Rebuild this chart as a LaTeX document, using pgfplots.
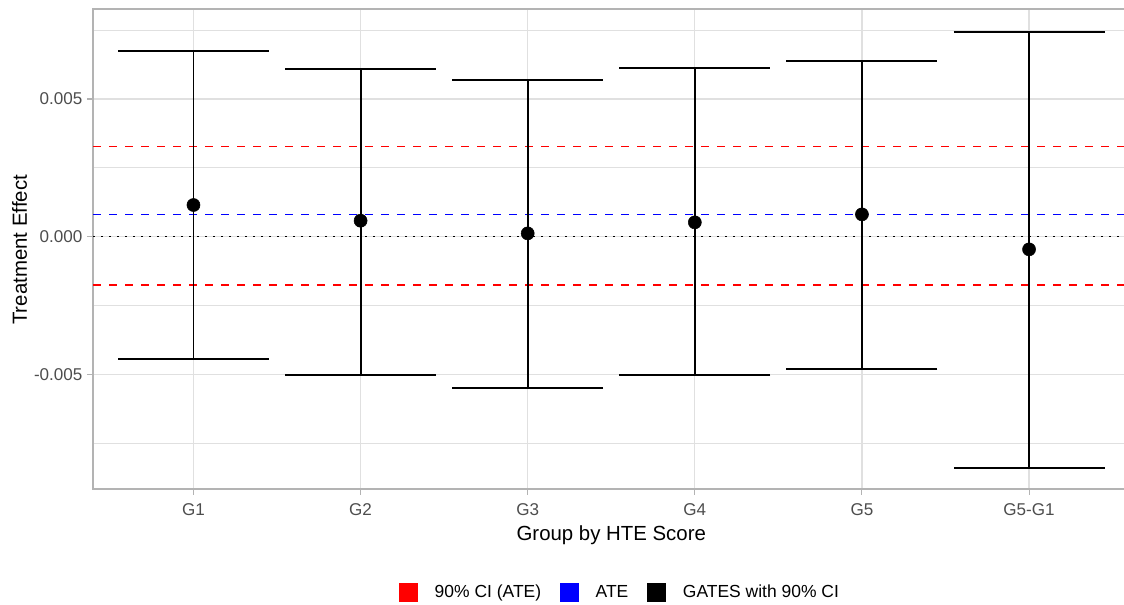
\documentclass[border=0pt]{standalone}
\usepackage{pgfplots}
\usepackage{pgfplotstable}
\pgfplotsset{compat=1.18}
\usepackage{fontspec}
\setmainfont{Liberation Sans}

\definecolor{gridgray}{HTML}{E0E0E0}
\definecolor{bordergray}{HTML}{B3B3B3}
\definecolor{textgray}{HTML}{4D4D4D}

% GATES estimates with 90% CI, by group
\pgfplotstableread{
x est lo hi
1 0.00115 -0.00444 0.00673
2 0.00058 -0.00502 0.00610
3 0.00012 -0.00549 0.00569
4 0.00052 -0.00502 0.00611
5 0.00081 -0.00480 0.00639
6 -0.00046 -0.00840 0.00742
}\gates

\begin{document}
\begin{tikzpicture}
\useasboundingbox (0,0) rectangle (843pt,453.75pt);
\begin{axis}[
  at={(69.9pt,87pt)}, anchor=south west,
  scale only axis,
  width=777.1pt, height=360pt,
  xmin=0.4, xmax=6.6,
  ymin=-0.009161, ymax=0.008268,
  xtick={1,2,3,4,5,6},
  xticklabels={G1,G2,G3,G4,G5,G5-G1},
  ytick={-0.005,0,0.005},
  yticklabels={-0.005,0.000,0.005},
  minor ytick={-0.0075,-0.0025,0.0025,0.0075},
  scaled y ticks=false,
  grid=both,
  major grid style={gridgray, line width=1pt},
  minor grid style={gridgray, line width=0.7pt},
  axis line style={bordergray, line width=1.4pt},
  tick align=outside,
  xtick pos=bottom, ytick pos=left,
  major tick length=4.5pt, minor tick length=0pt,
  tick style={bordergray, line width=0.8pt},
  ticklabel style={font=\fontsize{12.8}{15}\selectfont, text=textgray},
  xticklabel style={anchor=center, yshift=-11.25pt},
  yticklabel style={anchor=east, inner xsep=0pt, xshift=-3.4pt},
  xlabel={Group by HTE Score},
  ylabel={Treatment Effect},
  label style={font=\fontsize{15.3}{18}\selectfont},
  xlabel style={at={(axis description cs:0.5,-0.0958)}, anchor=center},
  ylabel style={at={(axis description cs:-0.0711,0.498)}, anchor=center},
  legend columns=3,
  legend style={at={(axis description cs:0.5075,-0.2146)}, anchor=center,
    draw=none, fill=none, font=\fontsize{13.1}{15}\selectfont,
    nodes={inner sep=0pt},
    /tikz/every odd column/.append style={column sep=12.75pt},
    /tikz/every even column/.append style={column sep=14.25pt}},
]

% reference lines
\addplot[forget plot, black, line width=1.1pt, dash pattern=on 1.3pt off 4.7pt] coordinates {(0.4,0) (6.6,0)};
\addplot[forget plot, red, line width=1.1pt, dash pattern=on 6pt off 6pt] coordinates {(0.4,0.00327) (6.6,0.00327)};
\addplot[forget plot, red, line width=1.1pt, dash pattern=on 6pt off 6pt] coordinates {(0.4,-0.00176) (6.6,-0.00176)};
\addplot[forget plot, blue, line width=1.1pt, dash pattern=on 6pt off 6pt] coordinates {(0.4,0.00081) (6.6,0.00081)};

% error bars
\addplot[forget plot, draw=none, mark=none,
  error bars/.cd, y dir=both, y explicit,
  error bar style={black, line width=1.4pt},
  error mark options={rotate=90, mark size=56.6pt, line width=1.4pt, black}]
  table[x=x, y=est,
    y error plus expr=\thisrow{hi}-\thisrow{est},
    y error minus expr=\thisrow{est}-\thisrow{lo}] {\gates};

% point estimates
\addplot[forget plot, only marks, mark=*, mark size=4.9pt, black] table[x=x, y=est] {\gates};

\addlegendimage{legend image code/.code={\fill[red] (0pt,-6.75pt) rectangle (13.5pt,6.75pt);}}
\addlegendentry{90\% CI (ATE)}
\addlegendimage{legend image code/.code={\fill[blue] (0pt,-6.75pt) rectangle (13.5pt,6.75pt);}}
\addlegendentry{ATE}
\addlegendimage{legend image code/.code={\fill[black] (0pt,-6.75pt) rectangle (13.5pt,6.75pt);}}
\addlegendentry{GATES with 90\% CI}
\end{axis}
\end{tikzpicture}
\end{document}
